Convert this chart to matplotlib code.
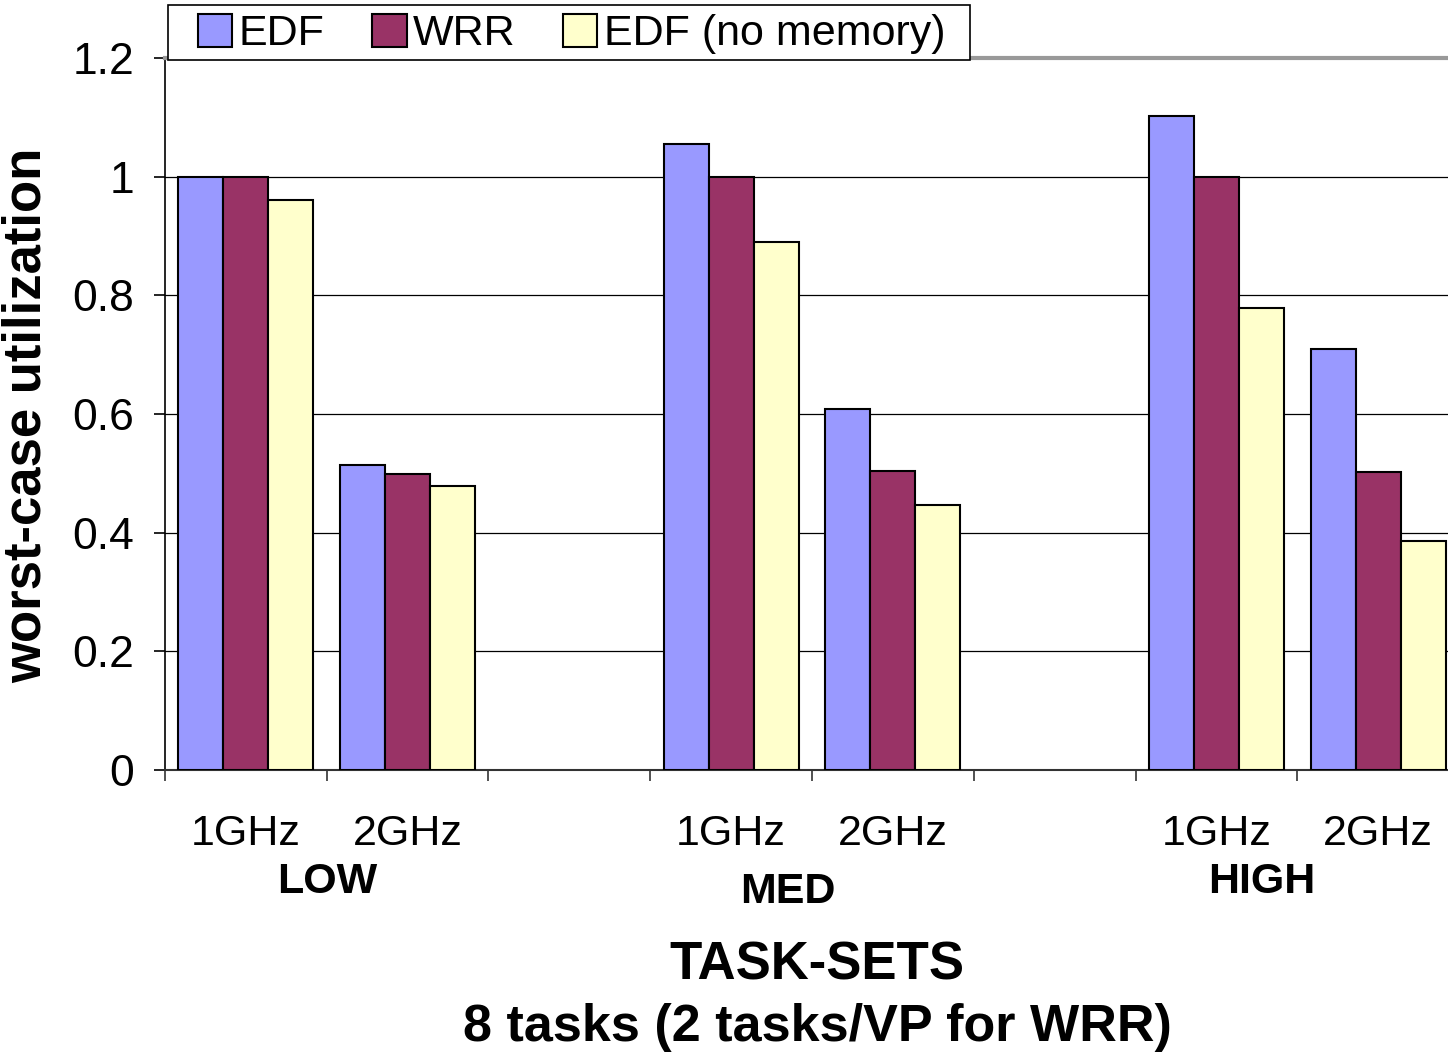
import numpy as np
import matplotlib.pyplot as plt
from matplotlib.patches import Rectangle

plt.rcParams['font.family'] = ['Liberation Sans', 'DejaVu Sans']

series = ["EDF", "WRR", "EDF (no memory)"]
colors = ["#9999FF", "#993366", "#FFFFCC"]
freq_labels = ["1GHz", "2GHz", "", "1GHz", "2GHz", "", "1GHz", "2GHz"]
groups = ["LOW", "MED", "HIGH"]

# values per slot (None = empty spacer slot)
edf = [1.0, 0.514, None, 1.055, 0.608, None, 1.102, 0.710]
wrr = [1.0, 0.499, None, 1.0, 0.504, None, 1.0, 0.502]
edf_nomem = [0.961, 0.479, None, 0.890, 0.447, None, 0.779, 0.386]

W, H = 1448, 1058
fig = plt.figure(figsize=(W / 100, H / 100), dpi=100)
ax = fig.add_axes([165/W, 288/H, 1294/W, 712/H])

w = 0.278
for i, (name, vals, c) in enumerate(zip(series, [edf, wrr, edf_nomem], colors)):
    xs = [k + (i - 1) * w for k, v in enumerate(vals) if v is not None]
    ys = [v for v in vals if v is not None]
    ax.bar(xs, ys, width=w, color=c, edgecolor='black', linewidth=1.5,
           label=name, zorder=3)

ax.set_xlim(-0.5, 7.5)
ax.set_ylim(0, 1.2)
ax.set_yticks(np.arange(0, 1.21, 0.2))
ax.set_yticklabels(["0", "0.2", "0.4", "0.6", "0.8", "1", "1.2"], fontsize=32)
ax.yaxis.grid(True, color='black', linewidth=0.9, zorder=0)

ax.set_xticks(np.arange(-0.5, 7.6, 1.0))
ax.set_xticklabels([])
ax.set_xticks(np.arange(8), minor=True)
ax.set_xticklabels(freq_labels, minor=True, fontsize=31)
ax.tick_params(axis='x', which='minor', length=0, pad=32)
ax.tick_params(axis='x', which='major', length=8, width=1.2, color='#333333')
ax.tick_params(axis='y', length=8, width=1.2, pad=14)

ax.spines['right'].set_visible(False)
ax.spines['top'].set_color('#999999')
ax.spines['top'].set_linewidth(3)
ax.spines['left'].set_linewidth(1.2)
ax.spines['bottom'].set_linewidth(1.5)
ax.spines['bottom'].set_color('#333333')

gx = [0.5, 3.35, 6.28]
gy = [-0.188, -0.205, -0.188]
for g, x, y in zip(groups, gx, gy):
    ax.text(x, y, g, fontsize=31, fontweight='bold', ha='center', va='center')

fig.text(817/W, 1 - 965/H, "TASK-SETS", fontsize=38, fontweight='bold',
         ha='center', va='center')
fig.text(817/W, 1 - 1027/H, "8 tasks (2 tasks/VP for WRR)", fontsize=37.5,
         fontweight='bold', ha='center', va='center')
fig.text(27/W, 1 - 415/H, "worst-case utilization", fontsize=38,
         fontweight='bold', rotation=90, ha='center', va='center')

# legend frame drawn separately so the inner padding can match
frame = Rectangle((168/W, 1 - 60/H), (970 - 168)/W, 55/H, transform=fig.transFigure,
                  facecolor='white', edgecolor='black', linewidth=1.2, zorder=9)
fig.add_artist(frame)
leg = fig.legend(loc='center left', bbox_to_anchor=(198/W, 1 - 34/H),
                 ncol=3, fontsize=31, frameon=False,
                 handlelength=0.8, handleheight=0.8, handletextpad=0.15,
                 columnspacing=1.1, borderpad=0, borderaxespad=0)
leg.set_zorder(10)

fig.savefig("out.png", dpi=100)
